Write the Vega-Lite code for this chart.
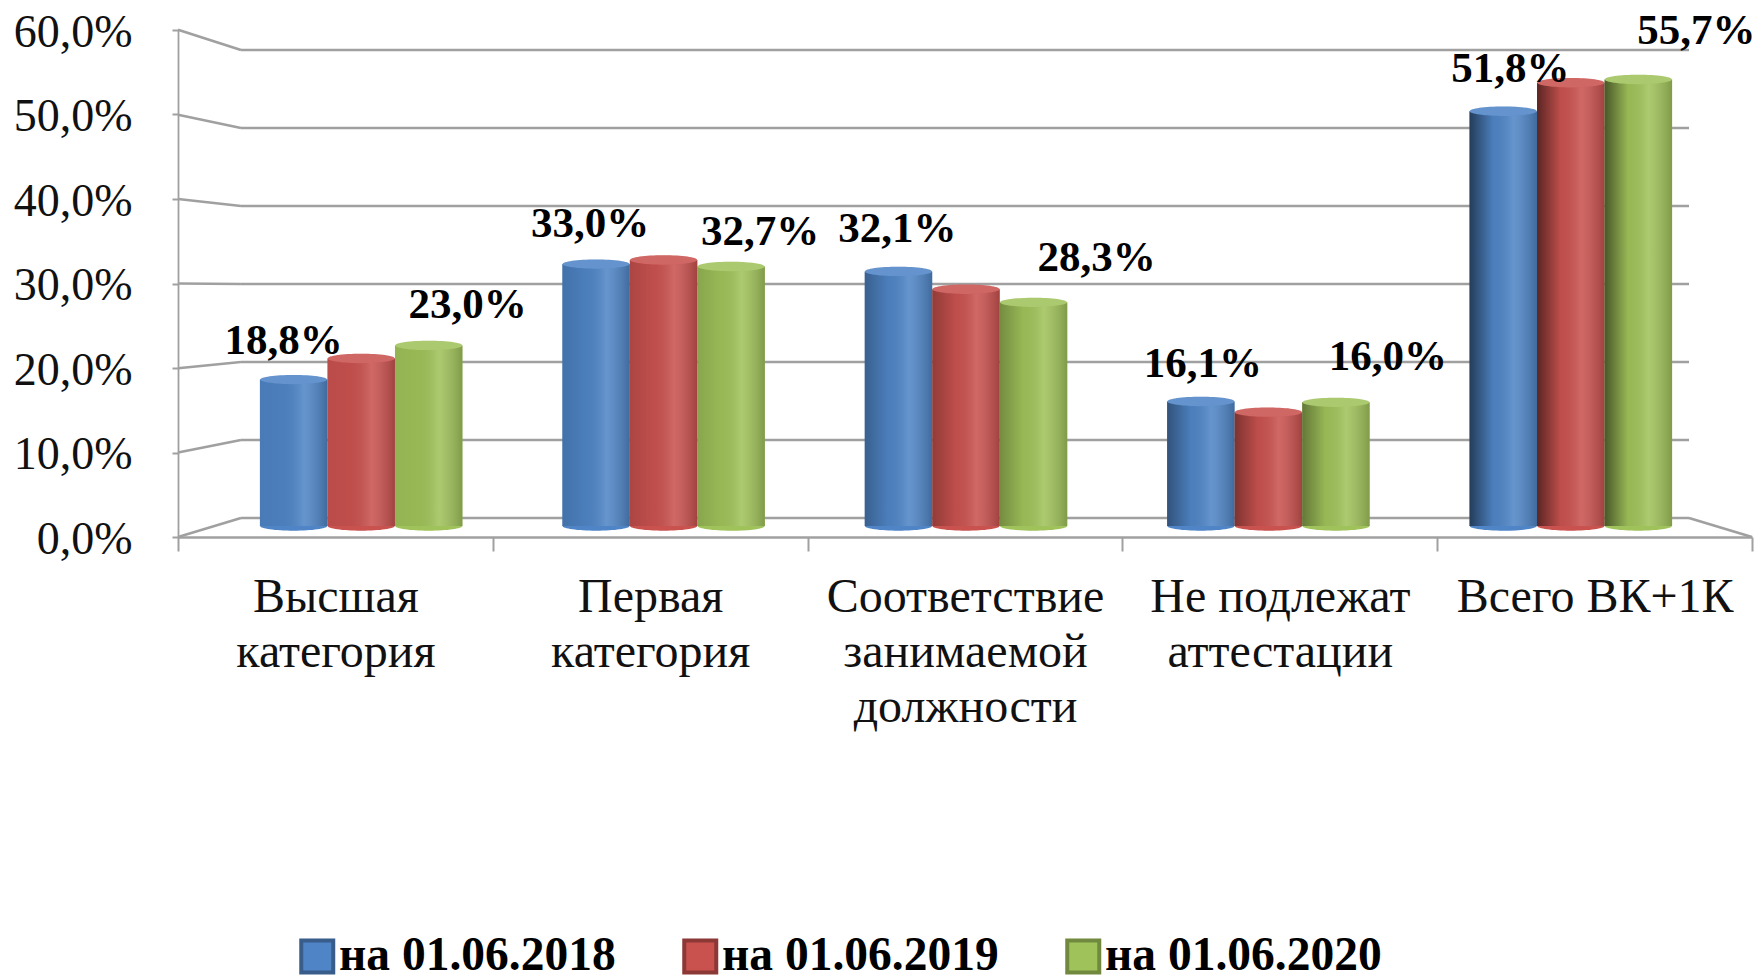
{
"$schema":"https://vega.github.io/schema/vega-lite/v6.json",
"width":1574,"height":507,
"autosize":{"type":"none"},
"padding":{"left":178,"top":30,"right":6,"bottom":440},
"background":"white",
"config":{"view":{"stroke":null},"font":"Liberation Serif"},
"datasets":{
"values":[
{"category":"Высшая категория","series":"на 01.06.2018","value":18.8},
{"category":"Высшая категория","series":"на 01.06.2019","value":21.4},
{"category":"Высшая категория","series":"на 01.06.2020","value":23.0},
{"category":"Первая категория","series":"на 01.06.2018","value":33.0},
{"category":"Первая категория","series":"на 01.06.2019","value":33.5},
{"category":"Первая категория","series":"на 01.06.2020","value":32.7},
{"category":"Соответствие занимаемой должности","series":"на 01.06.2018","value":32.1},
{"category":"Соответствие занимаемой должности","series":"на 01.06.2019","value":29.9},
{"category":"Соответствие занимаемой должности","series":"на 01.06.2020","value":28.3},
{"category":"Не подлежат аттестации","series":"на 01.06.2018","value":16.1},
{"category":"Не подлежат аттестации","series":"на 01.06.2019","value":14.8},
{"category":"Не подлежат аттестации","series":"на 01.06.2020","value":16.0},
{"category":"Всего ВК+1К","series":"на 01.06.2018","value":51.8},
{"category":"Всего ВК+1К","series":"на 01.06.2019","value":55.3},
{"category":"Всего ВК+1К","series":"на 01.06.2020","value":55.7}
],
"walls":[
{"from":0,"to":1,"front":-2.44,"back":0},{"from":0,"to":1,"front":8.4,"back":10},{"from":0,"to":1,"front":19.2,"back":20},{"from":0,"to":1,"front":30.06,"back":30},{"from":0,"to":1,"front":40.9,"back":40},{"from":0,"to":1,"front":51.7,"back":50},{"from":0,"to":1,"front":62.6,"back":60},
{"from":1,"to":24,"front":0,"back":0},{"from":1,"to":24,"front":10,"back":10},{"from":1,"to":24,"front":20,"back":20},{"from":1,"to":24,"front":30,"back":30},{"from":1,"to":24,"front":40,"back":40},{"from":1,"to":24,"front":50,"back":50},{"from":1,"to":24,"front":60,"back":60},
{"from":25,"to":24,"front":-2.44,"back":0}
]
},
"resolve":{"scale":{"x":"independent","y":"independent"},"axis":{"x":"independent","y":"independent"}},
"layer":[
{"data":{"name":"walls"},
 "mark":{"type":"rule","color":"#a0a0a0","strokeWidth":2.6},
 "encoding":{
  "x":{"field":"from","type":"quantitative","scale":{"domain":[0,25],"range":[0,1574],"nice":false,"zero":false},"axis":null},
  "x2":{"field":"to"},
  "y":{"field":"front","type":"quantitative","scale":{"domain":[0,60],"range":[488,20],"nice":false,"zero":false},"axis":null},
  "y2":{"field":"back"}}},
{"data":{"name":"values"},
 "mark":{"type":"point","opacity":0},
 "encoding":{
  "x":{"field":"category","type":"nominal","sort":null,"scale":{"type":"band","paddingInner":0,"paddingOuter":0,"range":[0,1574]},
   "axis":{"orient":"bottom","title":null,"tickBand":"extent","labelAngle":0,"grid":false,"domainColor":"#a0a0a0","domainWidth":2.6,"tickColor":"#a0a0a0","tickWidth":2,"tickSize":14,
    "labelFont":"Liberation Serif","labelFontSize":48,"labelColor":"#111","labelPadding":22,"labelLineHeight":55,"labelBaseline":"top","labelLimit":0,
    "labelExpr":"datum.label=='Высшая категория'?['Высшая','категория']:datum.label=='Первая категория'?['Первая','категория']:datum.label=='Соответствие занимаемой должности'?['Соответствие','занимаемой','должности']:datum.label=='Не подлежат аттестации'?['Не подлежат','аттестации']:datum.label"}},
  "y":{"datum":0,"type":"quantitative","scale":{"domain":[0,60],"nice":false,"zero":false},
   "axis":{"orient":"left","title":null,"values":[0,10,20,30,40,50,60],"grid":false,"domainColor":"#a0a0a0","domainWidth":1.8,"tickColor":"#a0a0a0","tickWidth":2,"tickSize":6,
    "labelFont":"Liberation Serif","labelFontSize":46,"labelColor":"#111","labelPadding":40,"labelOffset":2,"labelExpr":"replace(format(datum.value,'.1f'),'.',',')+'%'"}}}},
{"data":{"name":"values"},
 "encoding":{
  "x":{"field":"category","type":"nominal","sort":null,"scale":{"type":"band","paddingInner":0.33,"paddingOuter":0.165,"range":[32,1544]},"axis":null},
  "xOffset":{"field":"series","type":"nominal","sort":null,"scale":{"type":"band","paddingInner":0,"paddingOuter":0}},
  "y":{"field":"value","type":"quantitative","scale":{"domain":[0,60],"range":[502.5,14.5],"nice":false,"zero":false},"axis":null}},
 "layer":[
  {"mark":{"type":"point","filled":true,"opacity":1,"size":4489,"shape":"M-1,0 A1,0.14,0,1,1,1,0 A1,0.14,0,1,1,-1,0 Z"},
   "encoding":{"y":{"datum":0.8,"type":"quantitative"},
    "color":{"field":"series","type":"nominal","sort":null}}},
  {"mark":{"type":"bar","strokeWidth":0},
   "encoding":{
    "y2":{"datum":0.8},
    "color":{"field":"series","type":"nominal","sort":null,"scale":{"domain":["на 01.06.2018","на 01.06.2019","на 01.06.2020"],"range":["#4f85c6","#c9524f","#a0c25a"]},
     "legend":{"orient":"none","direction":"horizontal","columns":3,"title":null,"legendX":115.5,"legendY":902.5,"symbolType":"square","symbolSize":1024,"symbolStrokeWidth":4,"symbolOpacity":1,"labelFont":"Liberation Serif","labelFontWeight":"bold","labelFontSize":47.5,"labelColor":"#000","labelOffset":-2,"columnPadding":59,"labelLimit":0}},
    "stroke":{"field":"series","type":"nominal","sort":null,"scale":{"domain":["на 01.06.2018","на 01.06.2019","на 01.06.2020"],"range":["#385d8a","#8c3836","#71893f"]}}}},
  {"mark":{"type":"bar","fill":{"expr":"{gradient:'linear',x1:0,y1:0,x2:1,y2:0,stops:[{offset:0,color:'rgba(0,0,0,'+({'Высшая категория':0.08,'Первая категория':0.15,'Соответствие занимаемой должности':0.28,'Не подлежат аттестации':0.38,'Всего ВК+1К':0.55}[datum.category])+')'},{offset:0.35,color:'rgba(0,0,0,0.05)'},{offset:0.65,color:'rgba(255,255,255,0.13)'},{offset:1,color:'rgba(0,0,0,0.2)'}]}"}},
   "encoding":{"y2":{"datum":0.8}}},
  {"mark":{"type":"point","filled":true,"opacity":1,"size":4489,"shape":"M-1,0 A1,0.14,0,1,1,1,0 A1,0.14,0,1,1,-1,0 Z"},
   "encoding":{"color":{"field":"series","type":"nominal","sort":null}}},
  {"mark":{"type":"point","filled":true,"fill":"white","opacity":0.12,"size":4489,"shape":"M-1,0 A1,0.14,0,1,1,1,0 A1,0.14,0,1,1,-1,0 Z"}},
  {"transform":[{"filter":"datum.series=='на 01.06.2018'"},{"calculate":"replace(format(datum.value,'.1f'),'.',',')+'%'","as":"label"}],
   "mark":{"type":"text","font":"Liberation Serif","fontWeight":"bold","fontSize":43,"color":"#000",
    "dx":{"expr":"{'Высшая категория':-10,'Первая категория':-6,'Соответствие занимаемой должности':-1,'Не подлежат аттестации':2,'Всего ВК+1К':7}[datum.category]"},
    "dy":{"expr":"{'Высшая категория':-39,'Первая категория':-40,'Соответствие занимаемой должности':-42,'Не подлежат аттестации':-38,'Всего ВК+1К':-42}[datum.category]"}},
   "encoding":{"text":{"field":"label"}}},
  {"transform":[{"filter":"datum.series=='на 01.06.2020'"},{"calculate":"replace(format(datum.value,'.1f'),'.',',')+'%'","as":"label"}],
   "mark":{"type":"text","font":"Liberation Serif","fontWeight":"bold","fontSize":43,"color":"#000",
    "dx":{"expr":"{'Высшая категория':39,'Первая категория':29,'Соответствие занимаемой должности':63,'Не подлежат аттестации':52,'Всего ВК+1К':58}[datum.category]"},
    "dy":{"expr":"{'Высшая категория':-40,'Первая категория':-35,'Соответствие занимаемой должности':-44,'Не подлежат аттестации':-45,'Всего ВК+1К':-48}[datum.category]"}},
   "encoding":{"text":{"field":"label"}}}
 ]}
]
}
